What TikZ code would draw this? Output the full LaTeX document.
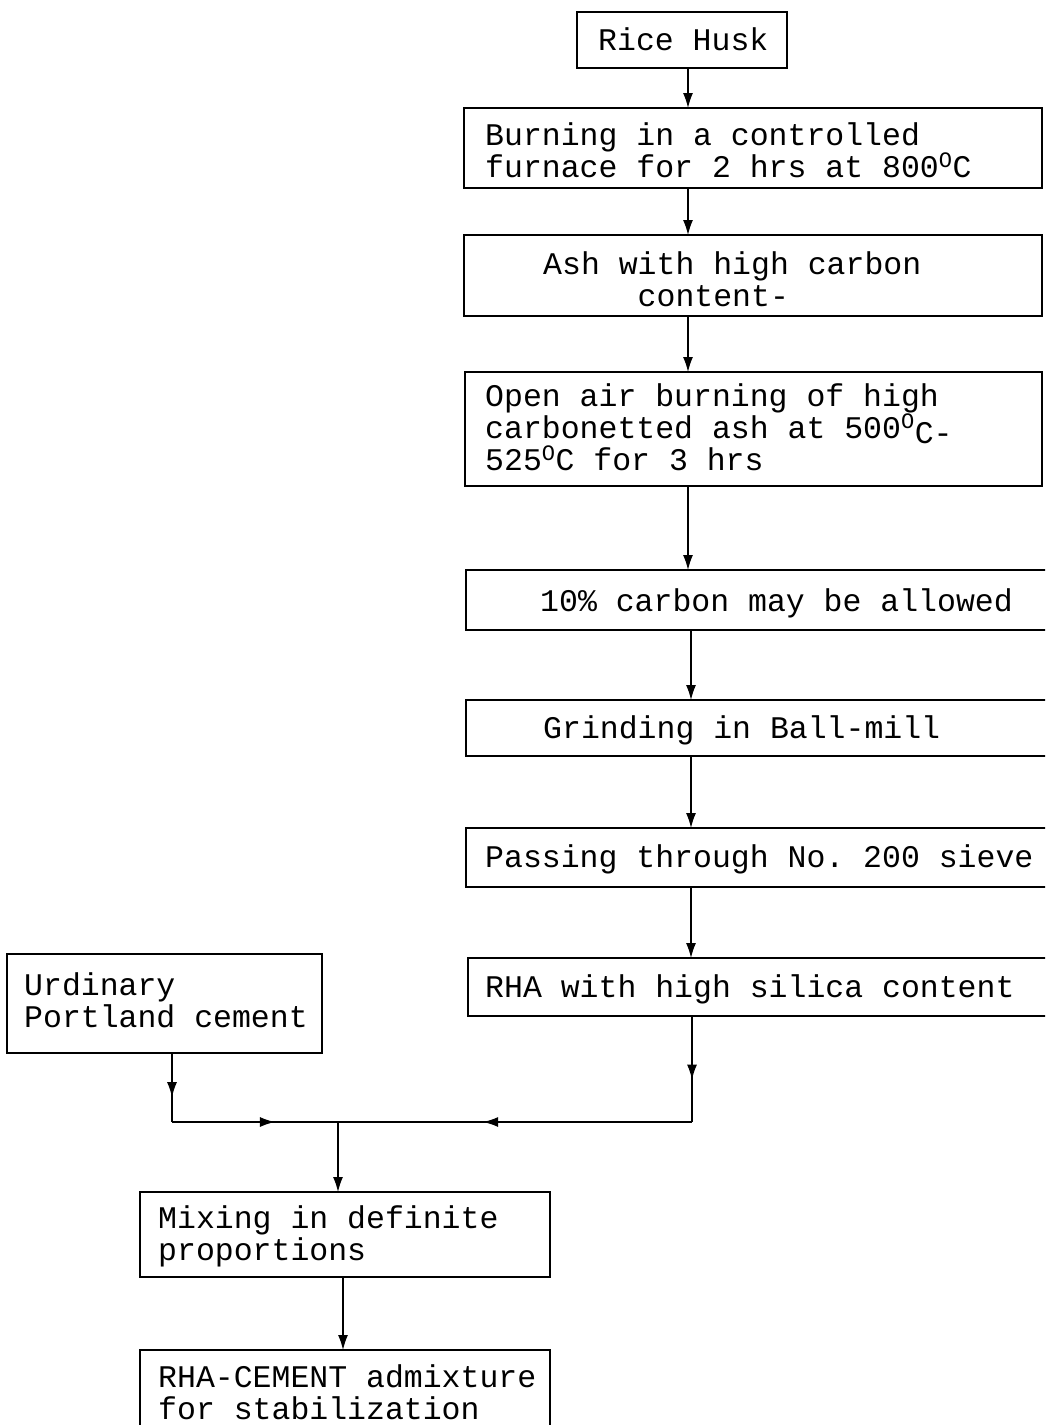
\documentclass[tikz,border=0pt]{standalone}
\usepackage{fontspec}
\setmonofont{Liberation Mono}
\usetikzlibrary{arrows.meta,decorations.markings}
\tikzset{
  box/.style={draw, line width=1.3pt, anchor=north west, inner sep=0pt, outer sep=0pt},
  txt/.style={anchor=base west, inner sep=0pt, align=left, font=\ttfamily\fontsize{31.5}{32}\selectfont},
  ln/.style={line width=1.3pt},
  ar/.style={ln, -{Latex[length=15pt,width=10pt]}},
  midar/.style={ln, postaction={decorate}, decoration={markings, mark=at position #1 with {\arrow{Latex[length=15pt,width=10pt]}}}}
}
\newcommand{\dg}{\textsuperscript{O}}
\begin{document}
\begin{tikzpicture}[x=1pt,y=-1pt]
\clip (0,0) rectangle (1045,1425);
\fill[white] (0,0) rectangle (1045,1425);
% boxes
\node[box, minimum width=210, minimum height=56] (rice) at (577,12) {};
\node[box, minimum width=578, minimum height=80] (burn) at (464,108) {};
\node[box, minimum width=578, minimum height=81] (ash) at (464,235) {};
\node[box, minimum width=577, minimum height=114] (open) at (465,372) {};
\node[box, minimum width=582, minimum height=60] (ten) at (466,570) {};
\node[box, minimum width=582, minimum height=56] (grind) at (466,700) {};
\node[box, minimum width=582, minimum height=59] (pass) at (466,828) {};
\node[box, minimum width=580, minimum height=58] (rha) at (468,958) {};
\node[box, minimum width=315, minimum height=99] (opc) at (7,954) {};
\node[box, minimum width=410, minimum height=85] (mix) at (140,1192) {};
\node[box, minimum width=410, minimum height=90] (adm) at (140,1350) {};
% texts (anchor = baseline of last line)
\node[txt] (ricet) at (598,50) {Rice Husk};
\node[txt] (burnt) at (485,177) {Burning in a controlled\\furnace for 2 hrs at 800\dg C};
\node[txt] (asht) at (543,306) {Ash with high carbon\\\phantom{xxxxx}content-};
\node[txt] (opent) at (485,470) {Open air burning of high\\carbonetted ash at 500\dg\raisebox{-5pt}{C-}\\525\dg C for 3 hrs};
\node[txt] (tent) at (540,611) {10\% carbon may be allowed};
\node[txt] (grindt) at (543,738) {Grinding in Ball-mill};
\node[txt] (passt) at (485,867) {Passing through No. 200 sieve};
\node[txt] (rhat) at (485,997) {RHA with high silica content};
\node[txt] (opct) at (24,1027) {Urdinary\\Portland cement};
\node[txt] (mixt) at (158,1260) {Mixing in definite\\proportions};
\node[txt] (admt) at (158,1419) {RHA-CEMENT admixture\\for stabilization};
% main column connectors
\coordinate (cxa) at (688,0);
\coordinate (cxb) at (691,0);
\draw[ar] (rice.south -| cxa) -- (burn.north -| cxa);
\draw[ar] (burn.south -| cxa) -- (ash.north -| cxa);
\draw[ar] (ash.south -| cxa) -- (open.north -| cxa);
\draw[ar] (open.south -| cxa) -- (ten.north -| cxa);
\draw[ar] (ten.south -| cxb) -- (grind.north -| cxb);
\draw[ar] (grind.south -| cxb) -- (pass.north -| cxb);
\draw[ar] (pass.south -| cxb) -- (rha.north -| cxb);
% junction
\coordinate (jl) at (172,1122);
\coordinate (jr) at (692,1122);
\coordinate (jc) at (338,1122);
\coordinate (mx) at (343,0);
\draw[midar=0.64] (opc.south -| jl) -- (jl);
\draw[midar=0.62] (jl) -- (jc);
\draw[midar=0.6] (rha.south -| jr) -- (jr);
\draw[midar=0.59] (jr) -- (jc);
\draw[ar] (jc) -- (mix.north -| jc);
\draw[ar] (mix.south -| mx) -- (adm.north -| mx);
\end{tikzpicture}
\end{document}
